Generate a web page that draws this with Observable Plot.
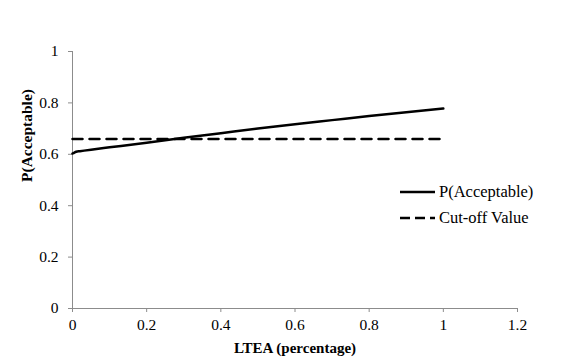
<!DOCTYPE html>
<html>
<head>
<meta charset="utf-8">
<script src="https://cdn.jsdelivr.net/npm/d3@7"></script>
<script src="https://cdn.jsdelivr.net/npm/@observablehq/plot@0.6"></script>
<style>
  html, body { margin: 0; padding: 0; background: #fff; }
  #wrap { position: relative; width: 577px; height: 359px; font-family: 'Liberation Serif', 'Times New Roman', serif; }
  #legend { position: absolute; left: 400px; top: 179px; font-size: 16.5px; color: #000; font-family: 'Liberation Serif', 'Times New Roman', serif; }
  #legend .row { display: flex; align-items: center; height: 26px; }
  #legend svg { margin-right: 4px; display: block; }
</style>
</head>
<body>
<div id="wrap"></div>
<script>
// Data
const ltea = [0, 0.005, 0.01, 0.02, 0.05, 0.1, 0.2, 0.3, 0.4, 0.5, 0.6, 0.7, 0.8, 0.9, 1.0];
const pAcceptable = [0.603, 0.607, 0.610, 0.612, 0.618, 0.627, 0.645, 0.664, 0.682, 0.700, 0.717, 0.733, 0.749, 0.764, 0.778];
const cutoffX = [0, 1.0];
const cutoffValue = [0.66, 0.66];
const xTicks = [0, 0.2, 0.4, 0.6, 0.8, 1, 1.2];
const yTicks = [0, 0.2, 0.4, 0.6, 0.8, 1];
const seriesNames = ["P(Acceptable)", "Cut-off Value"];

const curve = ltea.map((x, i) => ({x, y: pAcceptable[i]}));
const cutoff = cutoffX.map((x, i) => ({x, y: cutoffValue[i]}));

const serif = "'Liberation Serif', 'Times New Roman', serif";
const chart = Plot.plot({
  width: 577,
  height: 359,
  marginLeft: 72,
  marginRight: 60,
  marginTop: 51,
  marginBottom: 51,
  style: { fontFamily: serif, fontSize: "15.5px", color: "#000", background: "#fff" },
  x: { domain: [0, 1.2] },
  y: { domain: [0, 1] },
  marks: [
    Plot.ruleX([0], { stroke: "#8c8c8c", strokeWidth: 1 }),
    Plot.ruleY([0], { stroke: "#8c8c8c", strokeWidth: 1 }),
    Plot.axisX({ ticks: xTicks, tickFormat: d => String(d), tickSize: 4, tickPadding: 6, stroke: "#8c8c8c",
      label: null, fontSize: 15.5 }),
    Plot.axisY({ ticks: yTicks, tickFormat: d => String(d), tickSize: 4, tickPadding: 10, stroke: "#8c8c8c",
      label: null, fontSize: 15.5 }),
    Plot.line(cutoff, { x: "x", y: "y", stroke: "#000", strokeWidth: 2.5, strokeDasharray: "10,7" }),
    Plot.line(curve, { x: "x", y: "y", stroke: "#000", strokeWidth: 2.5, curve: "monotone-x" }),
    Plot.text(["LTEA (percentage)"], { frameAnchor: "bottom", dy: 44, fontWeight: "bold", fontSize: 15, fill: "#000" }),
    Plot.text(["P(Acceptable)"], { frameAnchor: "left", dx: -45, dy: 2, rotate: -90, fontWeight: "bold", fontSize: 15.5, fill: "#000" })
  ]
});
chart.querySelectorAll("text").forEach(t => t.setAttribute("fill", "#000"));
const wrap = document.getElementById("wrap");
wrap.appendChild(chart);

// Legend
const legend = document.createElement("div");
legend.id = "legend";
const dashes = [null, "10,5"];
seriesNames.forEach((name, i) => {
  const row = document.createElement("div");
  row.className = "row";
  row.innerHTML = `<svg width="35" height="6"><line x1="0" y1="3" x2="35" y2="3" stroke="#000" stroke-width="2.5" ${dashes[i] ? `stroke-dasharray="${dashes[i]}"` : ""}/></svg><span>${name}</span>`;
  legend.appendChild(row);
});
wrap.appendChild(legend);
</script>
</body>
</html>
